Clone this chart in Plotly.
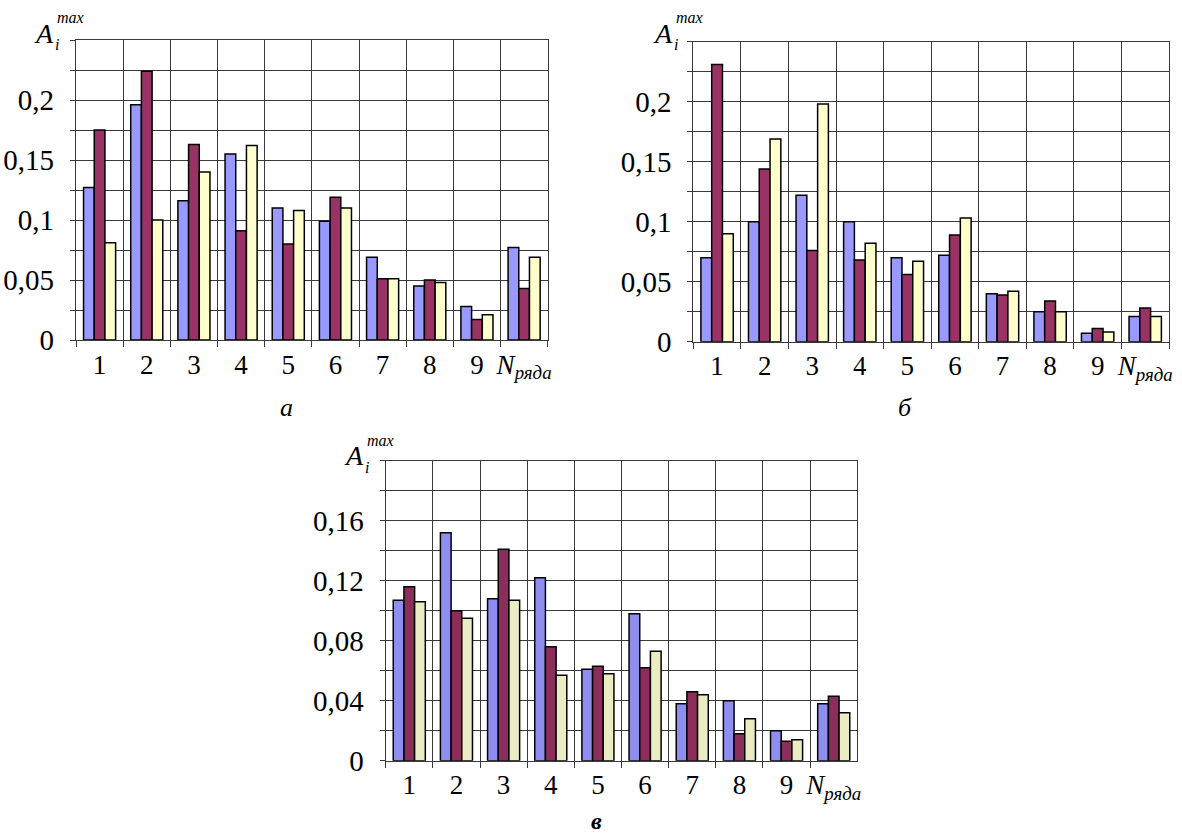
import plotly.graph_objects as go

W, H = 1182, 837

categories = ["1", "2", "3", "4", "5", "6", "7", "8", "9", "<i>N</i><sub><i>ряда</i></sub>"]

# chart a
a_s1 = [0.127, 0.196, 0.116, 0.155, 0.110, 0.099, 0.069, 0.045, 0.028, 0.077]
a_s2 = [0.175, 0.224, 0.163, 0.091, 0.080, 0.119, 0.051, 0.050, 0.017, 0.043]
a_s3 = [0.081, 0.100, 0.140, 0.162, 0.108, 0.110, 0.051, 0.048, 0.021, 0.069]
# chart б
b_s1 = [0.070, 0.100, 0.122, 0.100, 0.070, 0.072, 0.040, 0.025, 0.007, 0.021]
b_s2 = [0.231, 0.144, 0.076, 0.068, 0.056, 0.089, 0.039, 0.034, 0.011, 0.028]
b_s3 = [0.090, 0.169, 0.198, 0.082, 0.067, 0.103, 0.042, 0.025, 0.008, 0.021]
# chart в
c_s1 = [0.107, 0.152, 0.108, 0.122, 0.061, 0.098, 0.038, 0.040, 0.020, 0.038]
c_s2 = [0.116, 0.100, 0.141, 0.076, 0.063, 0.062, 0.046, 0.018, 0.013, 0.043]
c_s3 = [0.106, 0.095, 0.107, 0.057, 0.058, 0.073, 0.044, 0.028, 0.014, 0.032]

a_ticks = [0, 0.05, 0.1, 0.15, 0.2]
c_ticks = [0, 0.04, 0.08, 0.12, 0.16]

colors_ab = ["#9999FF", "#993366", "#FFFFCC"]
colors_c = ["#8E8EF0", "#8C2E5C", "#ECECC4"]

FONT = "Liberation Serif, Times New Roman, DejaVu Serif, serif"
GRID = "#3a3a3a"

def px_x(x):
    return x / W

def px_y(y):
    return 1 - y / H

fig = go.Figure()

panels = [
    ("x", "y", [a_s1, a_s2, a_s3], colors_ab),
    ("x2", "y2", [b_s1, b_s2, b_s3], colors_ab),
    ("x3", "y3", [c_s1, c_s2, c_s3], colors_c),
]
for xa, ya, series, cols in panels:
    for vals, col in zip(series, cols):
        fig.add_trace(go.Bar(
            x=categories, y=vals, xaxis=xa, yaxis=ya,
            marker=dict(color=col, line=dict(color="#000000", width=1.5)),
            showlegend=False, hoverinfo="skip",
        ))

def xaxis(domain, anchor):
    return dict(
        domain=domain, anchor=anchor, type="category", tickson="boundaries",
        showgrid=True, gridcolor=GRID, gridwidth=1,
        showline=True, linecolor=GRID, linewidth=1.2, mirror=True,
        ticks="outside", ticklen=6, tickcolor=GRID, tickangle=0,
        tickfont=dict(family=FONT, size=27, color="#000"),
        automargin=False, fixedrange=True,
    )

def yaxis(domain, anchor, rng, tvals, minor_dt):
    return dict(
        domain=domain, anchor=anchor, range=rng,
        tickmode="array", tickvals=tvals,
        showgrid=True, gridcolor=GRID, gridwidth=1,
        showline=True, linecolor=GRID, linewidth=1.2, mirror=True,
        ticks="outside", ticklen=5, tickcolor=GRID,
        minor=dict(tickmode="linear", tick0=0, dtick=minor_dt, showgrid=True,
                   gridcolor=GRID, gridwidth=1, ticks="outside", ticklen=5, tickcolor=GRID),
        tickfont=dict(family=FONT, size=29, color="#000"),
        ticklabelstandoff=10,
        automargin=False, zeroline=False, fixedrange=True,
    )

fig.update_layout(
    width=W, height=H,
    margin=dict(l=0, r=0, t=0, b=0, pad=0),
    paper_bgcolor="white", plot_bgcolor="white",
    font=dict(family=FONT, color="#000"),
    separators=", ",
    barmode="group", bargap=0.32, bargroupgap=0,
    xaxis=xaxis([px_x(76), px_x(547.7)], "y"),
    yaxis=yaxis([px_y(340), px_y(40)], "x", [0, 0.25], a_ticks, 0.025),
    xaxis2=xaxis([px_x(693.3), px_x(1169)], "y2"),
    yaxis2=yaxis([px_y(341.7), px_y(41.7)], "x2", [0, 0.25], a_ticks, 0.025),
    xaxis3=xaxis([px_x(385.7), px_x(857.3)], "y3"),
    yaxis3=yaxis([px_y(760.7), px_y(460.7)], "x3", [0, 0.2], c_ticks, 0.02),
)

anns = []
def label(x, y, text, size):
    anns.append(dict(x=px_x(x), y=px_y(y), xref="paper", yref="paper",
                     text=text, showarrow=False, xanchor="center", yanchor="middle",
                     font=dict(family=FONT, size=size, color="#000")))

for (ax, ay) in [(44, 33), (663, 33), (354, 455)]:
    label(ax, ay, "<i>A</i>", 28)
    label(ax + 13, ay + 12, "<i>i</i>", 16)
    label(ax + 26, ay - 15, "<i>max</i>", 16)

label(286, 408, "<i>а</i>", 26)
label(905, 408, "<i>б</i>", 26)
label(596, 821, "<b><i>в</i></b>", 24)

fig.update_layout(annotations=anns)

fig.write_html(
    "out.html",
    config={"displayModeBar": False},
    post_script="document.body.style.margin='0';document.body.style.overflow='hidden';",
)
